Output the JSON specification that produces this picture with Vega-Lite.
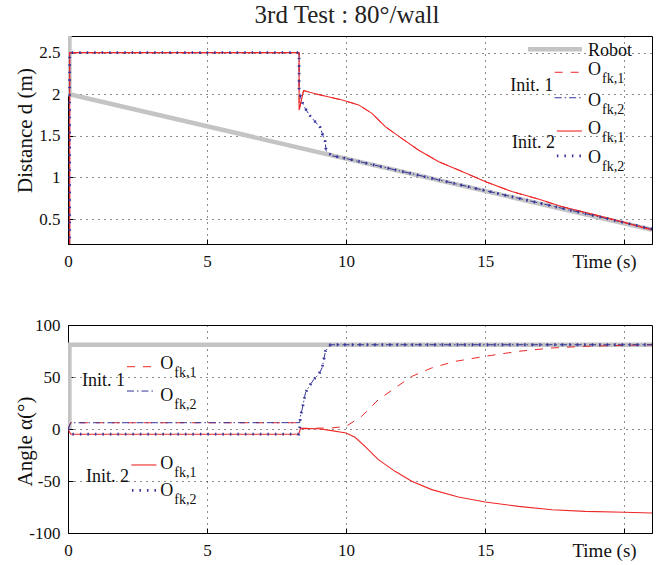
{
  "$schema": "https://vega.github.io/schema/vega-lite/v6.json",
  "padding": {"left": 13, "top": 2, "right": 5, "bottom": 5},
  "title": {"text": "3rd Test : 80°/wall", "font": "Liberation Serif", "fontSize": 25, "fontWeight": "normal", "color": "#222", "anchor": "middle", "offset": 8, "dx": 14},
  "spacing": 43,
  "config": {
    "view": {"stroke": "#000", "strokeWidth": 1},
    "axis": {"labelFont": "Liberation Serif", "labelFontSize": 17, "labelColor": "#111", "titleFont": "Liberation Serif", "titleFontSize": 21, "titleFontWeight": "normal", "titleColor": "#111", "domainColor": "#000", "gridColor": "#000", "gridDash": [1, 5], "gridOpacity": 0.9, "ticks": true, "tickSize": -5, "tickColor": "#000"},
    "text": {"font": "Liberation Serif", "fontSize": 18, "align": "left", "baseline": "alphabetic", "color": "#111"}
  },
  "datasets": {
    "dist": [
      {"s": "Robot", "t": 0.05, "v": 2.9}, {"s": "Robot", "t": 0.05, "v": 2.0}, {"s": "Robot", "t": 21, "v": 0.37},
      {"s": "I1O1", "t": 0.06, "v": 0.0}, {"s": "I1O1", "t": 0.06, "v": 2.5}, {"s": "I1O1", "t": 8.31, "v": 2.5}, {"s": "I1O1", "t": 8.31, "v": 1.81}, {"s": "I1O1", "t": 8.47, "v": 2.044}, {"s": "I1O1", "t": 9.0, "v": 1.997}, {"s": "I1O1", "t": 9.86, "v": 1.93}, {"s": "I1O1", "t": 10.45, "v": 1.872}, {"s": "I1O1", "t": 10.93, "v": 1.77}, {"s": "I1O1", "t": 11.41, "v": 1.61}, {"s": "I1O1", "t": 12.0, "v": 1.47}, {"s": "I1O1", "t": 12.6, "v": 1.33}, {"s": "I1O1", "t": 13.33, "v": 1.19}, {"s": "I1O1", "t": 14.04, "v": 1.09}, {"s": "I1O1", "t": 15.0, "v": 0.95}, {"s": "I1O1", "t": 15.96, "v": 0.83}, {"s": "I1O1", "t": 16.91, "v": 0.74}, {"s": "I1O1", "t": 17.75, "v": 0.65}, {"s": "I1O1", "t": 18.95, "v": 0.55}, {"s": "I1O1", "t": 20.0, "v": 0.46}, {"s": "I1O1", "t": 21.0, "v": 0.37},
      {"s": "I1O2", "t": 0.06, "v": 0.0}, {"s": "I1O2", "t": 0.06, "v": 2.5}, {"s": "I1O2", "t": 8.31, "v": 2.5}, {"s": "I1O2", "t": 8.31, "v": 2.05}, {"s": "I1O2", "t": 8.39, "v": 1.93}, {"s": "I1O2", "t": 8.53, "v": 1.83}, {"s": "I1O2", "t": 8.68, "v": 1.75}, {"s": "I1O2", "t": 8.86, "v": 1.68}, {"s": "I1O2", "t": 9.07, "v": 1.6}, {"s": "I1O2", "t": 9.16, "v": 1.51}, {"s": "I1O2", "t": 9.25, "v": 1.43}, {"s": "I1O2", "t": 9.28, "v": 1.32}, {"s": "I1O2", "t": 9.49, "v": 1.26}, {"s": "I1O2", "t": 9.78, "v": 1.244}, {"s": "I1O2", "t": 21.0, "v": 0.38},
      {"s": "I2O1", "t": 0.06, "v": 0.0}, {"s": "I2O1", "t": 0.06, "v": 2.5}, {"s": "I2O1", "t": 8.31, "v": 2.5}, {"s": "I2O1", "t": 8.31, "v": 1.81}, {"s": "I2O1", "t": 8.47, "v": 2.044}, {"s": "I2O1", "t": 9.0, "v": 1.997}, {"s": "I2O1", "t": 9.86, "v": 1.93}, {"s": "I2O1", "t": 10.45, "v": 1.872}, {"s": "I2O1", "t": 10.93, "v": 1.77}, {"s": "I2O1", "t": 11.41, "v": 1.61}, {"s": "I2O1", "t": 12.0, "v": 1.47}, {"s": "I2O1", "t": 12.6, "v": 1.33}, {"s": "I2O1", "t": 13.33, "v": 1.19}, {"s": "I2O1", "t": 14.04, "v": 1.09}, {"s": "I2O1", "t": 15.0, "v": 0.95}, {"s": "I2O1", "t": 15.96, "v": 0.83}, {"s": "I2O1", "t": 16.91, "v": 0.74}, {"s": "I2O1", "t": 17.75, "v": 0.65}, {"s": "I2O1", "t": 18.95, "v": 0.55}, {"s": "I2O1", "t": 20.0, "v": 0.46}, {"s": "I2O1", "t": 21.0, "v": 0.37},
      {"s": "I2O2", "t": 0.06, "v": 0.0}, {"s": "I2O2", "t": 0.06, "v": 2.5}, {"s": "I2O2", "t": 8.31, "v": 2.5}, {"s": "I2O2", "t": 8.31, "v": 2.05}, {"s": "I2O2", "t": 8.39, "v": 1.93}, {"s": "I2O2", "t": 8.53, "v": 1.83}, {"s": "I2O2", "t": 8.68, "v": 1.75}, {"s": "I2O2", "t": 8.86, "v": 1.68}, {"s": "I2O2", "t": 9.07, "v": 1.6}, {"s": "I2O2", "t": 9.16, "v": 1.51}, {"s": "I2O2", "t": 9.25, "v": 1.43}, {"s": "I2O2", "t": 9.28, "v": 1.32}, {"s": "I2O2", "t": 9.49, "v": 1.26}, {"s": "I2O2", "t": 9.78, "v": 1.244}, {"s": "I2O2", "t": 21.0, "v": 0.38}
    ],
    "angle": [
      {"s": "Robot", "t": 0.05, "v": 0}, {"s": "Robot", "t": 0.05, "v": 81}, {"s": "Robot", "t": 21, "v": 81},
      {"s": "I1O1", "t": 0, "v": 0}, {"s": "I1O1", "t": 0.1, "v": 6}, {"s": "I1O1", "t": 8.3, "v": 6}, {"s": "I1O1", "t": 8.36, "v": 0.6}, {"s": "I1O1", "t": 9.0, "v": 0.8}, {"s": "I1O1", "t": 9.48, "v": 1}, {"s": "I1O1", "t": 10.0, "v": 2.6}, {"s": "I1O1", "t": 10.56, "v": 12.2}, {"s": "I1O1", "t": 11.16, "v": 28.2}, {"s": "I1O1", "t": 11.76, "v": 39.4}, {"s": "I1O1", "t": 12.36, "v": 50.6}, {"s": "I1O1", "t": 13.08, "v": 58.7}, {"s": "I1O1", "t": 13.92, "v": 65}, {"s": "I1O1", "t": 15.0, "v": 69.9}, {"s": "I1O1", "t": 16.2, "v": 74.7}, {"s": "I1O1", "t": 17.4, "v": 77.9}, {"s": "I1O1", "t": 18.6, "v": 79.5}, {"s": "I1O1", "t": 20.0, "v": 80.4}, {"s": "I1O1", "t": 21.0, "v": 81},
      {"s": "I1O2", "t": 0, "v": 0}, {"s": "I1O2", "t": 0.1, "v": 6}, {"s": "I1O2", "t": 8.33, "v": 6.1}, {"s": "I1O2", "t": 8.36, "v": 12.5}, {"s": "I1O2", "t": 8.42, "v": 18.9}, {"s": "I1O2", "t": 8.48, "v": 26.9}, {"s": "I1O2", "t": 8.54, "v": 34.9}, {"s": "I1O2", "t": 8.64, "v": 39.7}, {"s": "I1O2", "t": 8.72, "v": 42.9}, {"s": "I1O2", "t": 8.84, "v": 47.8}, {"s": "I1O2", "t": 9.02, "v": 52.6}, {"s": "I1O2", "t": 9.14, "v": 59}, {"s": "I1O2", "t": 9.2, "v": 67}, {"s": "I1O2", "t": 9.26, "v": 75}, {"s": "I1O2", "t": 9.44, "v": 81}, {"s": "I1O2", "t": 21.0, "v": 81},
      {"s": "I2O1", "t": 0, "v": 0}, {"s": "I2O1", "t": 0.1, "v": -5}, {"s": "I2O1", "t": 8.3, "v": -5}, {"s": "I2O1", "t": 8.36, "v": 0.6}, {"s": "I2O1", "t": 9.0, "v": 0.2}, {"s": "I2O1", "t": 9.48, "v": -1.6}, {"s": "I2O1", "t": 10.0, "v": -3.8}, {"s": "I2O1", "t": 10.32, "v": -8}, {"s": "I2O1", "t": 10.68, "v": -16.7}, {"s": "I2O1", "t": 11.16, "v": -29.5}, {"s": "I2O1", "t": 11.76, "v": -40.7}, {"s": "I2O1", "t": 12.36, "v": -50.3}, {"s": "I2O1", "t": 13.08, "v": -58.3}, {"s": "I2O1", "t": 14.04, "v": -65.4}, {"s": "I2O1", "t": 15.0, "v": -70.2}, {"s": "I2O1", "t": 16.2, "v": -74.4}, {"s": "I2O1", "t": 17.4, "v": -77.6}, {"s": "I2O1", "t": 18.6, "v": -79.2}, {"s": "I2O1", "t": 20.0, "v": -80.1}, {"s": "I2O1", "t": 21.0, "v": -80.8},
      {"s": "I2O2", "t": 0, "v": 0}, {"s": "I2O2", "t": 0.1, "v": -5}, {"s": "I2O2", "t": 8.3, "v": -5}, {"s": "I2O2", "t": 8.33, "v": 1.3}, {"s": "I2O2", "t": 8.36, "v": 12.5}, {"s": "I2O2", "t": 8.42, "v": 18.9}, {"s": "I2O2", "t": 8.48, "v": 26.9}, {"s": "I2O2", "t": 8.54, "v": 34.9}, {"s": "I2O2", "t": 8.64, "v": 39.7}, {"s": "I2O2", "t": 8.72, "v": 42.9}, {"s": "I2O2", "t": 8.84, "v": 47.8}, {"s": "I2O2", "t": 9.02, "v": 52.6}, {"s": "I2O2", "t": 9.14, "v": 59}, {"s": "I2O2", "t": 9.2, "v": 67}, {"s": "I2O2", "t": 9.26, "v": 75}, {"s": "I2O2", "t": 9.44, "v": 81}, {"s": "I2O2", "t": 21.0, "v": 81}
    ]
  },
  "vconcat": [
    {
      "width": 584, "height": 208,
      "layer": [
        {"data": {"name": "dist"}, "transform": [{"filter": "datum.s == 'Robot'"}], "mark": {"type": "line", "clip": true, "stroke": "#c4c4c4", "strokeWidth": 4.5},
         "encoding": {
          "x": {"field": "t", "type": "quantitative", "scale": {"domain": [0, 21], "nice": false, "zero": false},
                "axis": {"values": [0, 5, 10, 15, 20], "labelExpr": "datum.value == 20 ? '' : datum.label", "labelFlush": false, "labelBaseline": "alphabetic", "labelPadding": 27, "title": "Time (s)", "titleX": 536, "titleY": 23, "titleAlign": "center", "titleBaseline": "alphabetic", "titleFontSize": 19}},
          "y": {"field": "v", "type": "quantitative", "scale": {"domain": [0.2, 2.7], "nice": false, "zero": false},
                "axis": {"values": [0.5, 1, 1.5, 2, 2.5], "format": "~g", "labelPadding": 13, "title": "Distance d (m)", "titleX": -43, "titleY": 94, "titleAngle": -90, "titleAlign": "center", "titleBaseline": "middle"}},
          "order": {"value": null}}},
        {"data": {"name": "dist"}, "transform": [{"filter": "datum.s == 'I1O1'"}], "mark": {"type": "line", "clip": true, "stroke": "#ee2828", "strokeWidth": 1, "strokeDash": [8, 8]}, "encoding": {"x": {"field": "t", "type": "quantitative"}, "y": {"field": "v", "type": "quantitative"}, "order": {"value": null}}},
        {"data": {"name": "dist"}, "transform": [{"filter": "datum.s == 'I1O2'"}], "mark": {"type": "line", "clip": true, "stroke": "#33339a", "strokeWidth": 1, "strokeDash": [7, 3, 1.5, 3]}, "encoding": {"x": {"field": "t", "type": "quantitative"}, "y": {"field": "v", "type": "quantitative"}, "order": {"value": null}}},
        {"data": {"name": "dist"}, "transform": [{"filter": "datum.s == 'I2O1'"}], "mark": {"type": "line", "clip": true, "stroke": "#ee2828", "strokeWidth": 1.1}, "encoding": {"x": {"field": "t", "type": "quantitative"}, "y": {"field": "v", "type": "quantitative"}, "order": {"value": null}}},
        {"data": {"name": "dist"}, "transform": [{"filter": "datum.s == 'I2O2'"}], "mark": {"type": "line", "clip": true, "stroke": "#33339a", "strokeWidth": 2.8, "strokeDash": [1.5, 6]}, "encoding": {"x": {"field": "t", "type": "quantitative"}, "y": {"field": "v", "type": "quantitative"}, "order": {"value": null}}},
        {"data": {"values": [{}]}, "mark": {"type": "rule", "stroke": "#c4c4c4", "strokeWidth": 4.5}, "encoding": {"x": {"datum": 16.54}, "x2": {"datum": 18.48}, "y": {"datum": 2.54}}},
        {"data": {"values": [{}]}, "mark": {"type": "text", "text": "Robot"}, "encoding": {"x": {"datum": 18.7}, "y": {"datum": 2.46}}},
        {"data": {"values": [{}]}, "mark": {"type": "text", "text": "Init. 1"}, "encoding": {"x": {"datum": 15.9}, "y": {"datum": 2.04}}},
        {"data": {"values": [{}]}, "mark": {"type": "rule", "stroke": "#ee2828", "strokeWidth": 1, "strokeDash": [8, 8]}, "encoding": {"x": {"datum": 17.5}, "x2": {"datum": 18.48}, "y": {"datum": 2.264}}},
        {"data": {"values": [{}]}, "mark": {"type": "text", "text": "O"}, "encoding": {"x": {"datum": 18.7}, "y": {"datum": 2.231}}},
        {"data": {"values": [{}]}, "mark": {"type": "text", "text": "fk,1", "fontSize": 14, "dx": 14, "dy": 8}, "encoding": {"x": {"datum": 18.7}, "y": {"datum": 2.231}}},
        {"data": {"values": [{}]}, "mark": {"type": "rule", "stroke": "#33339a", "strokeWidth": 1, "strokeDash": [7, 3, 1.5, 3]}, "encoding": {"x": {"datum": 17.5}, "x2": {"datum": 18.48}, "y": {"datum": 1.958}}},
        {"data": {"values": [{}]}, "mark": {"type": "text", "text": "O"}, "encoding": {"x": {"datum": 18.7}, "y": {"datum": 1.859}}},
        {"data": {"values": [{}]}, "mark": {"type": "text", "text": "fk,2", "fontSize": 14, "dx": 14, "dy": 8}, "encoding": {"x": {"datum": 18.7}, "y": {"datum": 1.859}}},
        {"data": {"values": [{}]}, "mark": {"type": "text", "text": "Init. 2"}, "encoding": {"x": {"datum": 15.97}, "y": {"datum": 1.35}}},
        {"data": {"values": [{}]}, "mark": {"type": "rule", "stroke": "#ee2828", "strokeWidth": 1.1}, "encoding": {"x": {"datum": 17.58}, "x2": {"datum": 18.48}, "y": {"datum": 1.558}}},
        {"data": {"values": [{}]}, "mark": {"type": "text", "text": "O"}, "encoding": {"x": {"datum": 18.7}, "y": {"datum": 1.522}}},
        {"data": {"values": [{}]}, "mark": {"type": "text", "text": "fk,1", "fontSize": 14, "dx": 14, "dy": 8}, "encoding": {"x": {"datum": 18.7}, "y": {"datum": 1.522}}},
        {"data": {"values": [{}]}, "mark": {"type": "rule", "stroke": "#33339a", "strokeWidth": 2.8, "strokeDash": [1.5, 6]}, "encoding": {"x": {"datum": 17.58}, "x2": {"datum": 18.48}, "y": {"datum": 1.258}}},
        {"data": {"values": [{}]}, "mark": {"type": "text", "text": "O"}, "encoding": {"x": {"datum": 18.7}, "y": {"datum": 1.17}}},
        {"data": {"values": [{}]}, "mark": {"type": "text", "text": "fk,2", "fontSize": 14, "dx": 14, "dy": 8}, "encoding": {"x": {"datum": 18.7}, "y": {"datum": 1.17}}}
      ]
    },
    {
      "width": 584, "height": 208,
      "layer": [
        {"data": {"name": "angle"}, "transform": [{"filter": "datum.s == 'Robot'"}], "mark": {"type": "line", "clip": true, "stroke": "#c4c4c4", "strokeWidth": 4.5},
         "encoding": {
          "x": {"field": "t", "type": "quantitative", "scale": {"domain": [0, 21], "nice": false, "zero": false},
                "axis": {"values": [0, 5, 10, 15, 20], "labelExpr": "datum.value == 20 ? '' : datum.label", "labelFlush": false, "labelBaseline": "alphabetic", "labelPadding": 27, "title": "Time (s)", "titleX": 536, "titleY": 23, "titleAlign": "center", "titleBaseline": "alphabetic", "titleFontSize": 19}},
          "y": {"field": "v", "type": "quantitative", "scale": {"domain": [-100, 100], "nice": false, "zero": false},
                "axis": {"values": [-100, -50, 0, 50, 100], "labelExpr": "datum.value < 0 ? '-' + abs(datum.value) : '' + datum.value", "labelPadding": 13, "title": "Angle α(°)", "titleX": -43, "titleY": 116, "titleAngle": -90, "titleAlign": "center", "titleBaseline": "middle"}},
          "order": {"value": null}}},
        {"data": {"name": "angle"}, "transform": [{"filter": "datum.s == 'I1O1'"}], "mark": {"type": "line", "clip": true, "stroke": "#ee2828", "strokeWidth": 1, "strokeDash": [8, 8]}, "encoding": {"x": {"field": "t", "type": "quantitative"}, "y": {"field": "v", "type": "quantitative"}, "order": {"value": null}}},
        {"data": {"name": "angle"}, "transform": [{"filter": "datum.s == 'I1O2'"}], "mark": {"type": "line", "clip": true, "stroke": "#33339a", "strokeWidth": 1, "strokeDash": [7, 3, 1.5, 3]}, "encoding": {"x": {"field": "t", "type": "quantitative"}, "y": {"field": "v", "type": "quantitative"}, "order": {"value": null}}},
        {"data": {"name": "angle"}, "transform": [{"filter": "datum.s == 'I2O1'"}], "mark": {"type": "line", "clip": true, "stroke": "#ee2828", "strokeWidth": 1.1}, "encoding": {"x": {"field": "t", "type": "quantitative"}, "y": {"field": "v", "type": "quantitative"}, "order": {"value": null}}},
        {"data": {"name": "angle"}, "transform": [{"filter": "datum.s == 'I2O2'"}], "mark": {"type": "line", "clip": true, "stroke": "#33339a", "strokeWidth": 2.8, "strokeDash": [1.5, 6]}, "encoding": {"x": {"field": "t", "type": "quantitative"}, "y": {"field": "v", "type": "quantitative"}, "order": {"value": null}}},
        {"data": {"values": [{}]}, "mark": {"type": "text", "text": "Init. 1"}, "encoding": {"x": {"datum": 0.503}, "y": {"datum": 41.3}}},
        {"data": {"values": [{}]}, "mark": {"type": "rule", "stroke": "#ee2828", "strokeWidth": 1, "strokeDash": [8, 8]}, "encoding": {"x": {"datum": 2.12}, "x2": {"datum": 3.08}, "y": {"datum": 59.9}}},
        {"data": {"values": [{}]}, "mark": {"type": "text", "text": "O"}, "encoding": {"x": {"datum": 3.32}, "y": {"datum": 57.4}}},
        {"data": {"values": [{}]}, "mark": {"type": "text", "text": "fk,1", "fontSize": 14, "dx": 14, "dy": 8}, "encoding": {"x": {"datum": 3.32}, "y": {"datum": 57.4}}},
        {"data": {"values": [{}]}, "mark": {"type": "rule", "stroke": "#33339a", "strokeWidth": 1, "strokeDash": [7, 3, 1.5, 3]}, "encoding": {"x": {"datum": 2.12}, "x2": {"datum": 3.08}, "y": {"datum": 36.5}}},
        {"data": {"values": [{}]}, "mark": {"type": "text", "text": "O"}, "encoding": {"x": {"datum": 3.32}, "y": {"datum": 26.9}}},
        {"data": {"values": [{}]}, "mark": {"type": "text", "text": "fk,2", "fontSize": 14, "dx": 14, "dy": 8}, "encoding": {"x": {"datum": 3.32}, "y": {"datum": 26.9}}},
        {"data": {"values": [{}]}, "mark": {"type": "text", "text": "Init. 2"}, "encoding": {"x": {"datum": 0.647}, "y": {"datum": -50.6}}},
        {"data": {"values": [{}]}, "mark": {"type": "rule", "stroke": "#ee2828", "strokeWidth": 1.1}, "encoding": {"x": {"datum": 2.28}, "x2": {"datum": 3.18}, "y": {"datum": -34.6}}},
        {"data": {"values": [{}]}, "mark": {"type": "text", "text": "O"}, "encoding": {"x": {"datum": 3.32}, "y": {"datum": -38.8}}},
        {"data": {"values": [{}]}, "mark": {"type": "text", "text": "fk,1", "fontSize": 14, "dx": 14, "dy": 8}, "encoding": {"x": {"datum": 3.32}, "y": {"datum": -38.8}}},
        {"data": {"values": [{}]}, "mark": {"type": "rule", "stroke": "#33339a", "strokeWidth": 2.8, "strokeDash": [1.5, 6]}, "encoding": {"x": {"datum": 2.3}, "x2": {"datum": 3.26}, "y": {"datum": -59}}},
        {"data": {"values": [{}]}, "mark": {"type": "text", "text": "O"}, "encoding": {"x": {"datum": 3.32}, "y": {"datum": -64.4}}},
        {"data": {"values": [{}]}, "mark": {"type": "text", "text": "fk,2", "fontSize": 14, "dx": 14, "dy": 8}, "encoding": {"x": {"datum": 3.32}, "y": {"datum": -64.4}}}
      ]
    }
  ]
}
